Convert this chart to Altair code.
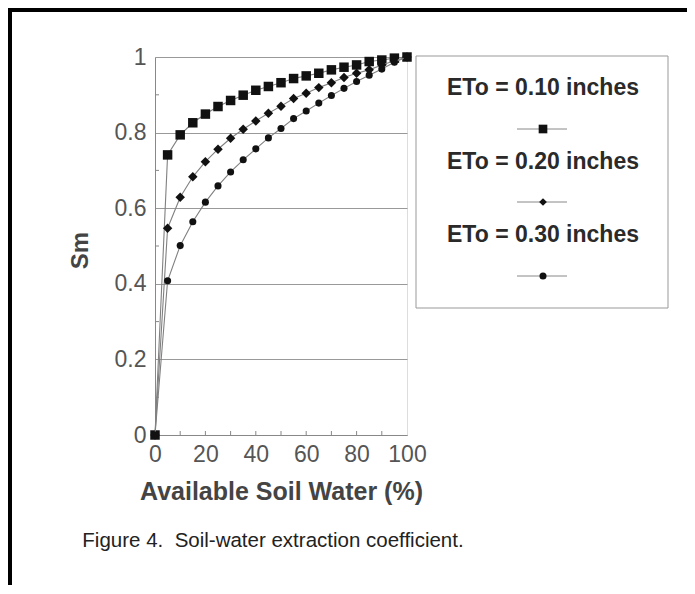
import altair as alt
import pandas as pd

# ---- data ----
asw = [0, 5, 10, 15, 20, 25, 30, 35, 40, 45, 50, 55, 60, 65, 70, 75, 80, 85, 90, 95, 100]
sm_010 = [0, 0.741, 0.794, 0.826, 0.849, 0.869, 0.885, 0.899, 0.912, 0.922, 0.932,
          0.943, 0.950, 0.957, 0.966, 0.973, 0.979, 0.988, 0.992, 0.997, 1.0]
sm_020 = [0, 0.547, 0.629, 0.683, 0.723, 0.756, 0.785, 0.809, 0.831, 0.851, 0.870,
          0.890, 0.904, 0.919, 0.932, 0.946, 0.957, 0.966, 0.979, 0.990, 1.0]
sm_030 = [0, 0.408, 0.501, 0.564, 0.616, 0.659, 0.696, 0.728, 0.757, 0.786, 0.811,
          0.837, 0.857, 0.878, 0.898, 0.917, 0.935, 0.952, 0.968, 0.986, 1.0]
series_names = ["ETo = 0.10 inches", "ETo = 0.20 inches", "ETo = 0.30 inches"]
series_values = [sm_010, sm_020, sm_030]
series_shapes = ["square", "diamond", "circle"]
series_sizes = [90, 90, 50]

y_ticks = [0, 0.2, 0.4, 0.6, 0.8, 1]
x_ticks = [0, 20, 40, 60, 80, 100]
x_minor = [10, 20, 30, 40, 50, 60, 70, 80, 90]
y_minor = [0.1, 0.3, 0.5, 0.7, 0.9]
x_title = "Available Soil Water (%)"
y_title = "Sm"
caption = ["Figure 4.\u00a0 Soil-water extraction coefficient."]

W, H = 252, 378
LINE = "#808080"
INK = "#111111"
FONT = "Liberation Sans"

rows = []
for name, vals in zip(series_names, series_values):
    for xv, yv in zip(asw, vals):
        rows.append({"series": name, "asw": xv, "sm": yv})
df = pd.DataFrame(rows)

xs = alt.Scale(domain=[0, 100], nice=False)
ys = alt.Scale(domain=[0, 1], nice=False)

x_axis = alt.Axis(values=x_ticks, ticks=False, grid=False, domainColor="#888",
                  labelFont=FONT, labelFontSize=23, labelColor="#555",
                  labelFlush=False, labelOverlap=False,
                  labelPadding=8, title=x_title, titleFont=FONT, titleFontSize=25,
                  titleFontWeight="bold", titleColor="#444", titleY=56,
                  titleBaseline="middle")
y_axis = alt.Axis(values=y_ticks, format="~g", ticks=False, grid=True,
                  gridColor="#999", gridWidth=1, domainColor="#888",
                  labelFont=FONT, labelFontSize=23, labelColor="#555",
                  labelFlush=False, labelOverlap=False,
                  labelPadding=9, title=y_title, titleFont=FONT, titleFontSize=24,
                  titleFontWeight="bold", titleColor="#444", titleX=-75,
                  titleY=193, titleAngle=270, titleAlign="center",
                  titleBaseline="middle")

base = alt.Chart(df)
layers = []
# grid/axes holder
layers.append(base.mark_line(opacity=0).encode(
    x=alt.X("asw:Q", scale=xs, axis=x_axis),
    y=alt.Y("sm:Q", scale=ys, axis=y_axis),
    detail="series:N"))

# minor ticks
layers.append(alt.Chart(pd.DataFrame({"v": x_minor})).mark_rule(color="#888", strokeWidth=1).encode(
    x=alt.X("v:Q", scale=xs), y=alt.value(H), y2=alt.value(H - 4)))
layers.append(alt.Chart(pd.DataFrame({"v": y_minor})).mark_rule(color="#888", strokeWidth=1).encode(
    y=alt.Y("v:Q", scale=ys), x=alt.value(0), x2=alt.value(4)))

for name, shape, size in zip(series_names, series_shapes, series_sizes):
    d = df[df["series"] == name]
    layers.append(alt.Chart(d).mark_line(color=LINE, strokeWidth=1.1).encode(
        x=alt.X("asw:Q", scale=xs), y=alt.Y("sm:Q", scale=ys)))
    layers.append(alt.Chart(d).mark_point(shape=shape, filled=True, color=INK,
                                          size=size, opacity=1).encode(
        x=alt.X("asw:Q", scale=xs), y=alt.Y("sm:Q", scale=ys)))

# legend box
leg = pd.DataFrame({"series": series_names})
layers.append(alt.Chart(leg.head(1)).mark_rect(fill="white", stroke="#999", strokeWidth=1).encode(
    x=alt.value(261), x2=alt.value(513), y=alt.value(-1), y2=alt.value(251)))
label_y = [31, 105, 178]
sym_y = [72, 145, 219]
leg_sizes = [75, 60, 50]
for i, (name, shape) in enumerate(zip(series_names, series_shapes)):
    one = leg.iloc[[i]]
    layers.append(alt.Chart(one).mark_text(font=FONT, fontSize=23, fontWeight="bold",
                                           color="#2a2a2a", align="center", baseline="middle").encode(
        text="series:N", x=alt.value(388), y=alt.value(label_y[i])))
    layers.append(alt.Chart(one).mark_rule(color="#888", strokeWidth=1).encode(
        x=alt.value(362), x2=alt.value(412), y=alt.value(sym_y[i])))
    layers.append(alt.Chart(one).mark_point(shape=shape, filled=True, color=INK,
                                            size=leg_sizes[i], opacity=1).encode(
        x=alt.value(388), y=alt.value(sym_y[i])))

# caption
layers.append(alt.Chart(pd.DataFrame({"t": caption})).mark_text(
    font=FONT, fontSize=20.5, color="#222", align="center", baseline="middle").encode(
    text="t:N", x=alt.value(118), y=alt.value(484)))

# black frame (top and left)
frame = pd.DataFrame({"k": [0]})
layers.append(alt.Chart(frame).mark_rect(color="black").encode(
    x=alt.value(-147), x2=alt.value(532), y=alt.value(-49), y2=alt.value(-45)))
layers.append(alt.Chart(frame).mark_rect(color="black").encode(
    x=alt.value(-147), x2=alt.value(-143), y=alt.value(-49), y2=alt.value(528)))

chart = alt.layer(*layers).properties(
    width=W, height=H, autosize="none",
    padding={"left": 147, "top": 49, "right": 280, "bottom": 150},
).configure_view(stroke="#888", strokeWidth=1).configure(background="white")

chart.save("out.html", embed_options={"renderer": "svg", "actions": False})
